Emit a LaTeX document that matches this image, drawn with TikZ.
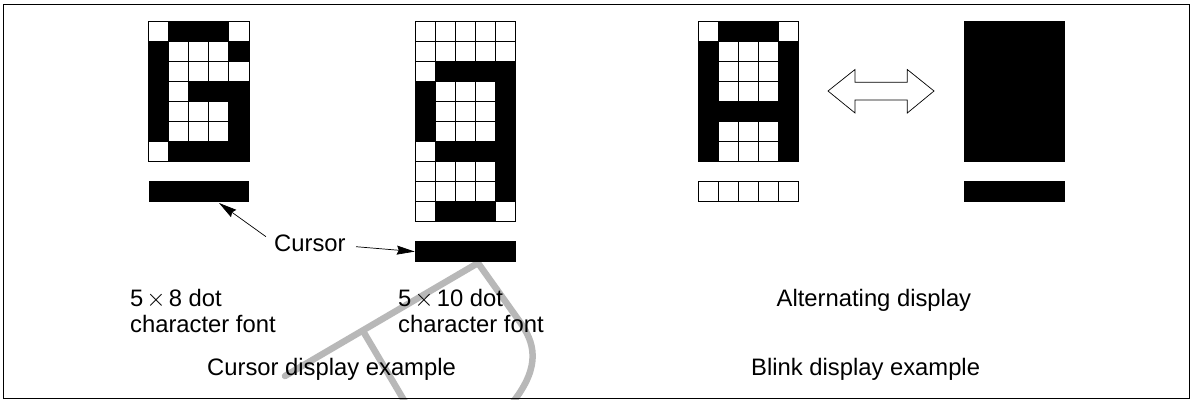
\documentclass[tikz,border=0pt]{standalone}
\usepackage{fontspec}
\setmainfont{Liberation Sans}
\usetikzlibrary{arrows.meta}
\tikzset{
  px/.style={x=1pt,y=-1pt},
  lab/.style={font=\fontsize{23.8pt}{27pt}\selectfont,inner sep=0pt,anchor=base west,align=left},
  callout/.style={draw=black,line width=0.7pt,-{Stealth[length=18pt,width=9pt,inset=2pt]}},
  watermark/.style={draw=black!28,line width=6.5pt,line cap=round,line join=round},
  barbox/.style={fill=black,minimum width=100.6pt,minimum height=20.8pt,inner sep=0pt,anchor=north west}
}
\newcommand{\tinytimes}{\hspace{3pt}$\times$\hspace{3pt}}
\newcommand{\dotgrid}[4]{% x, y, rows, black cells list as col/row
  \foreach \c in {0,...,4}\foreach \r in {1,...,#3}{
    \pgfmathsetmacro\xa{#1+\c*20.12}\pgfmathsetmacro\ya{#2+(\r-1)*20.05}
    \draw[line width=1pt,fill=white] (\xa,\ya) rectangle ++(20.12,20.05);
  }
  \foreach \c/\r in {#4}{
    \pgfmathsetmacro\xa{#1+\c*20.12}\pgfmathsetmacro\ya{#2+\r*20.05}
    \fill[black] (\xa-.5,\ya-.5) rectangle ++(21.12,21.05);
  }
}
\begin{document}
\begin{tikzpicture}[px]
\useasboundingbox (0,0) rectangle (1196,399);
\fill[white] (0,0) rectangle (1196,399);
\clip (0,0) rectangle (1196,399);
% watermark
\draw[watermark] (285,376) -- (478,263) -- (520,322) .. controls (534,342) and (542,365) .. (513,402);
\draw[watermark] (363,331) -- (405,402);
% frame
\draw[line width=1.1pt] (3.3,4.3) rectangle (1189.3,398.2);
% grid 1
\dotgrid{148.5}{21}{7}{1/0,2/0,3/0,0/1,4/1,0/2,0/3,2/3,3/3,4/3,0/4,4/4,0/5,4/5,1/6,2/6,3/6,4/6}
\node[barbox] (bar1) at (148.4,181) {};
% grid 2
\dotgrid{415}{21}{10}{1/2,2/2,3/2,4/2,0/3,4/3,0/4,4/4,0/5,4/5,1/6,2/6,3/6,4/6,4/7,4/8,1/9,2/9,3/9}
\node[barbox] (bar2) at (414.8,241) {};
% grid 3
\dotgrid{698}{21}{7}{1/0,2/0,3/0,0/1,4/1,0/2,4/2,0/3,4/3,0/4,1/4,2/4,3/4,4/4,0/5,4/5,0/6,4/6}
\dotgrid{698}{181}{1}{}
% grid 4
\node[barbox,minimum height=140.6pt] (full4) at (964,21) {};
\node[barbox] (bar4) at (964,181) {};
% double arrow
\draw[line width=.7pt,fill=white] (828,91) -- (855,69.5) -- (855,82.3) -- (907.3,82.3) -- (907.3,69.5) -- (934,91) -- (907.3,113) -- (907.3,100) -- (855,100) -- (855,113) -- cycle;
% labels
\node[lab] (cursor) at (274,251.7) {Cursor};
\coordinate (tail1) at (266,236.7);
\coordinate (tip1) at (219,203);
\coordinate (tail2) at (356,246.7);
\draw[callout] (tail1) -- (tip1);
\draw[callout] (tail2) -- (bar2.west);
\node[lab] (a1) at (130,306) {5\tinytimes 8 dot};
\node[lab] (a2) at (130,332.7) {character font};
\node[lab] (b1) at (398,306) {5\tinytimes 10 dot};
\node[lab] (b2) at (398,332.7) {character font};
\node[lab] (c1) at (207,375) {Cursor display example};
\node[lab] (d1) at (776.5,306) {Alternating display};
\node[lab] (d2) at (751,375) {Blink display example};
\end{tikzpicture}
\end{document}
